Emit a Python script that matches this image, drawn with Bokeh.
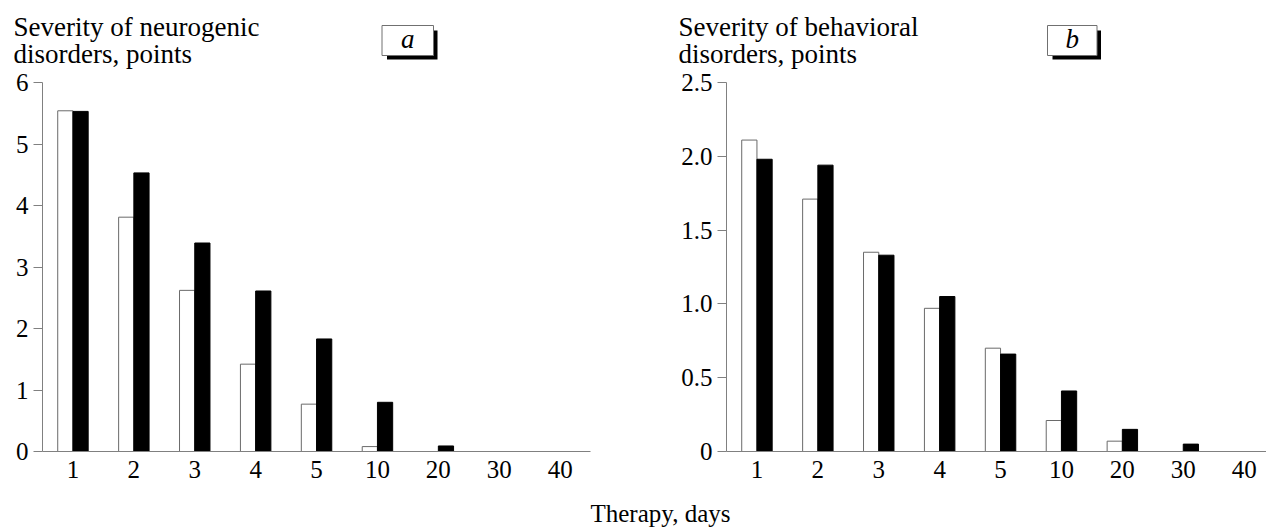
import numpy as np
from bokeh.plotting import figure
from bokeh.models import Range1d, FixedTicker, Label, BoxAnnotation
from bokeh.layouts import column, row
from bokeh.embed import file_html
from bokeh.resources import INLINE

# ---- data ----
days = ["1", "2", "3", "4", "5", "10", "20", "30", "40"]
neuro_white = [5.54, 3.81, 2.62, 1.42, 0.77, 0.08, 0.0, 0.0, 0.0]
neuro_black = [5.53, 4.53, 3.39, 2.61, 1.83, 0.80, 0.09, 0.0, 0.0]
behav_white = [2.11, 1.71, 1.35, 0.97, 0.70, 0.21, 0.07, 0.0, 0.0]
behav_black = [1.98, 1.94, 1.33, 1.05, 0.66, 0.41, 0.15, 0.05, 0.0]
neuro_ticks = [0, 1, 2, 3, 4, 5, 6]
neuro_tick_labels = ["0", "1", "2", "3", "4", "5", "6"]
behav_ticks = [0, 0.5, 1.0, 1.5, 2.0, 2.5]
behav_tick_labels = ["0", "0.5", "1.0", "1.5", "2.0", "2.5"]
neuro_title = ["Severity of neurogenic", "disorders, points"]
behav_title = ["Severity of behavioral", "disorders, points"]
x_title = "Therapy, days"

# ---- layout / style ----
FONT = "Liberation Serif"
FS = "25px"
TFS = "27px"
W = 1266
HALF = 633
TOP_H = 70          # strip holding the panel titles and letter boxes
FRAME_TOP = 82      # absolute y of the top of the plot frames
FRAME_H = 369
BOTTOM_Y = 493      # absolute y where the bottom strip starts
PX_CAT = 60.9
AXIS_GRAY = "#808080"
SHIFT = 9           # renderer places the alphabetic baseline this much lower


def strip(x0, width, y0, height):
    """A frame-only figure whose data coordinates equal page pixels."""
    s = figure(width=width, height=height, x_range=Range1d(x0, x0 + width),
               y_range=Range1d(y0 + height, y0), output_backend="svg",
               toolbar_location=None, min_border=0,
               x_axis_location=None, y_axis_location=None)
    s.title = None
    s.outline_line_color = None
    s.grid.visible = False
    return s


def header(x0, title_lines, title_x, letter, box):
    s = strip(x0, HALF, 0, TOP_H)
    for txt, base in zip(title_lines, (35, 62)):
        s.add_layout(Label(x=title_x, y=base - SHIFT, text=txt, text_font=FONT,
                           text_font_size=TFS, text_color="black",
                           text_align="left", text_baseline="alphabetic"))
    l, t, r, b = box
    s.add_layout(BoxAnnotation(left=l + 5, right=r + 4, top=t + 5, bottom=b + 4,
                               fill_color="black", fill_alpha=1, line_color=None))
    s.add_layout(BoxAnnotation(left=l, right=r, top=t, bottom=b,
                               fill_color="white", fill_alpha=1,
                               line_color="#707070", line_alpha=1, line_width=1))
    s.add_layout(Label(x=(l + r) / 2, y=47 - SHIFT, text=letter, text_font=FONT,
                       text_font_size=TFS, text_font_style="italic",
                       text_color="black", text_align="center",
                       text_baseline="alphabetic"))
    return s


def panel(left, frame_w, right, ymax, yticks, ylabels, white, black):
    pos = np.arange(len(days)) + 0.5
    h = BOTTOM_Y - TOP_H
    p = figure(width=left + frame_w + right, height=h,
               x_range=Range1d(0, frame_w / PX_CAT), y_range=Range1d(0, ymax),
               output_backend="svg", toolbar_location=None,
               min_border_left=left, min_border_right=right,
               min_border_top=FRAME_TOP - TOP_H,
               min_border_bottom=h - (FRAME_TOP - TOP_H) - FRAME_H)
    p.title = None
    p.outline_line_color = None
    p.grid.visible = False

    p.vbar(x=pos - 0.125, top=white, width=0.25, fill_color="white",
           line_color="#6a6a6a", line_width=1)
    p.vbar(x=pos + 0.125, top=black, width=0.25, fill_color="black",
           line_color="black", line_width=1)

    p.xaxis.ticker = FixedTicker(ticks=list(pos))
    p.xaxis.major_label_overrides = {float(v): d for v, d in zip(pos, days)}
    p.yaxis.ticker = FixedTicker(ticks=yticks)
    p.yaxis.major_label_overrides = {float(v): s for v, s in zip(yticks, ylabels)}
    for ax in (p.xaxis, p.yaxis):
        ax.axis_line_color = AXIS_GRAY
        ax.major_tick_line_color = AXIS_GRAY
        ax.minor_tick_line_color = None
        ax.major_label_text_font = FONT
        ax.major_label_text_font_size = FS
        ax.major_label_text_color = "black"
        ax.major_tick_in = 0
    p.xaxis.major_tick_out = 0
    p.xaxis.major_label_standoff = 9
    p.yaxis.major_tick_out = 9
    p.yaxis.major_label_standoff = 5
    return p


ha = header(0, neuro_title, 13, "a", (381.5, 25, 433, 55))
hb = header(HALF, behav_title, 678, "b", (1047, 25, 1096.5, 55))
pa = panel(42, 548, 43, 6, neuro_ticks, neuro_tick_labels, neuro_white, neuro_black)
pb = panel(93, 540, 0, 2.5, behav_ticks, behav_tick_labels, behav_white, behav_black)

foot = strip(0, W, BOTTOM_Y, 527 - BOTTOM_Y)
foot.add_layout(Label(x=660, y=521 - 8, text=x_title, text_font=FONT,
                      text_font_size=FS, text_color="black", text_align="center",
                      text_baseline="alphabetic"))

layout = column(row(ha, hb), row(pa, pb), foot)
open("out.html", "w").write(file_html(layout, INLINE))
